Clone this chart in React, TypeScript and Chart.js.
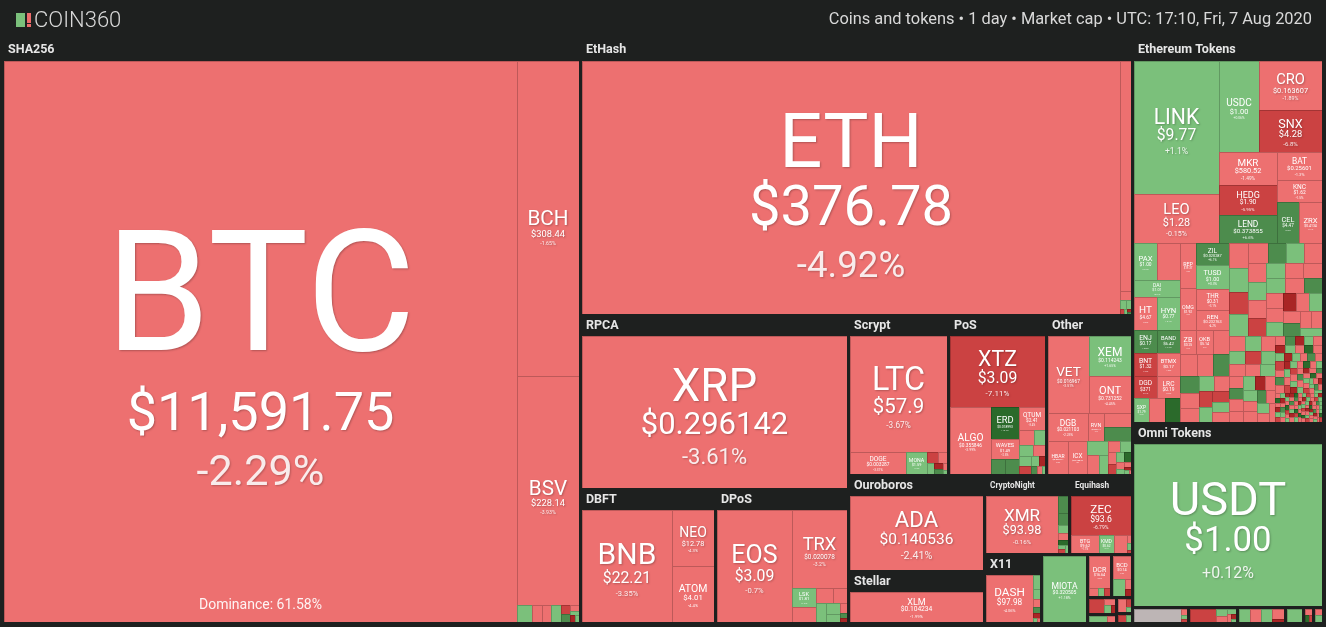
import React, { useEffect, useRef } from 'react';
import { Chart, registerables } from 'chart.js';

Chart.register(...registerables);

const CANVAS_W = 1326;
const CANVAS_H = 627;
const BG = '#1e201f';
const FONT = 'Roboto, "Open Sans", sans-serif';

const TITLE = 'COIN360';
const SUBTITLE = 'Coins and tokens \u2022 1 day \u2022 Market cap \u2022 UTC: 17:10, Fri, 7 Aug 2020';
const DOMINANCE = 'Dominance: 61.58%';

// ---------- data (cap = relative market-cap weight read from tile areas) ----------
const SHA256_SYM = ['BTC', 'BCH', 'BSV', 'ELA', 'NMC', 'PPC', 'EMC'];
const SHA256_PRICE = ['$11,591.75', '$308.44', '$228.14', '$1.41', '$0.64', '$0.31', '$0.05'];
const SHA256_CHG = [-2.29, -1.65, -3.93, 2.1, -2.4, -1.8, 1.5];
const SHA256_CAP = [2992, 204, 148, 2.8, 1.8, 1.6, 1.8];
const SHA256_TAIL_CAP = [0.9, 0.7, 0.5, 0.4, 0.3, 0.3];
const SHA256_TAIL_CHG = [-6.2, 7.1, -3.0, 2.2, -12.4, 1.0];

const ETHASH_SYM = ['ETH', 'ETC', 'EXP', 'CLO', 'UBQ'];
const ETHASH_PRICE = ['$376.78', '$7.35', '$0.16', '$0.006', '$0.12'];
const ETHASH_CHG = [-4.92, -4.41, -3.1, 2.4, 1.9];
const ETHASH_CAP = [1486, 28, 1.2, 0.5, 0.5];
const ETHASH_TAIL_CAP = [0.25, 0.2, 0.15, 0.1];
const ETHASH_TAIL_CHG = [-7.0, 3.0, -12.0, 6.0];

const RPCA_SYM = ['XRP'];
const RPCA_PRICE = ['$0.296142'];
const RPCA_CHG = [-3.61];
const RPCA_CAP = [463];

const DBFT_SYM = ['BNB', 'NEO', 'ATOM'];
const DBFT_PRICE = ['$22.21', '$12.78', '$4.01'];
const DBFT_CHG = [-3.35, -4.3, -4.4];
const DBFT_CAP = [123, 28.5, 28.5];

const DPOS_SYM = ['EOS', 'TRX', 'LSK', 'NANO'];
const DPOS_PRICE = ['$3.09', '$0.020078', '$1.81', '$1.04'];
const DPOS_CHG = [-0.7, -3.2, 1.2, -1.9];
const DPOS_CAP = [102, 52, 5.7, 4.5];
const DPOS_TAIL_CAP = [3.2, 2.6, 2.4, 1.8, 1.2, 0.8, 0.5, 0.3];
const DPOS_TAIL_CHG = [-2.0, -1.5, 2.1, 1.2, 0.8, -3.0, 8.2, -11.0];

const SCRYPT_SYM = ['LTC', 'DOGE', 'MONA'];
const SCRYPT_PRICE = ['$57.9', '$0.003287', '$1.59'];
const SCRYPT_CHG = [-3.67, -3.31, 1.3];
const SCRYPT_CAP = [134, 14.6, 5.5];
const SCRYPT_TAIL_CAP = [1.4, 1.1, 0.9, 0.6, 0.5, 0.3, 0.2];
const SCRYPT_TAIL_CHG = [-9.1, -3.0, 4.2, -12.3, 7.4, -2.2, 1.1];

const POS_SYM = ['XTZ', 'ALGO', 'ERD', 'WAVES', 'ONE', 'KAVA', 'QTUM'];
const POS_PRICE = ['$3.09', '$0.355846', '$0.018993', '$1.49', '$0.0072', '$1.21', '$2.41'];
const POS_CHG = [-7.11, -3.99, 12.4, -2.5, 7.8, 6.3, -3.4];
const POS_CAP = [80, 33, 11, 6.6, 2.6, 2.6, 7.4];
const POS_TAIL_CAP = [2.6, 2.0, 1.8, 1.6, 1.4, 1.2, 1.0, 0.8, 0.6, 0.5, 0.3];
const POS_TAIL_CHG = [-3.1, 2.2, 1.5, -2.0, 3.4, -6.1, 1.0, -12.2, 6.3, -4.0, 2.1];

const OTHER_SYM = ['VET', 'XEM', 'ONT', 'DGB', 'RVN', 'SC', 'WAN', 'HBAR', 'ICX', 'XVG', 'ARDR', 'NXS'];
const OTHER_PRICE = ['$0.016967', '$0.114243', '$0.731252', '$0.021103', '$0.023112', '$0.003701', '$0.27', '$0.052341', '$0.618842', '$0.0067', '$0.06', '$0.28'];
const OTHER_CHG = [-3.51, 1.65, -4.45, -2.25, -3.1, -3.2, 8.5, -3.6, -3.0, 2.4, -2.1, 1.3];
const OTHER_CAP = [37.6, 20, 18.5, 13.3, 5.4, 4.6, 4.7, 7.8, 7.4, 3.3, 2.7, 2.2];
const OTHER_TAIL_CAP = [1.6, 1.4, 1.2, 1.0, 0.9, 0.8, 0.7, 0.5, 0.4, 0.3, 0.2, 0.1];
const OTHER_TAIL_CHG = [-2.2, 3.5, -1.4, -6.8, 1.9, 12.5, -3.3, 2.6, -1.1, -13.0, 4.1, -2.0];

const OUROBOROS_SYM = ['ADA'];
const OUROBOROS_PRICE = ['$0.140536'];
const OUROBOROS_CHG = [-2.41];
const OUROBOROS_CAP = [130];

const STELLAR_SYM = ['XLM'];
const STELLAR_PRICE = ['$0.104234'];
const STELLAR_CHG = [-1.99];
const STELLAR_CAP = [70];

const CRYPTONIGHT_SYM = ['XMR'];
const CRYPTONIGHT_PRICE = ['$93.98'];
const CRYPTONIGHT_CHG = [-0.16];
const CRYPTONIGHT_CAP = [59];
const CRYPTONIGHT_TAIL_CAP = [2.4, 1.6, 1.2, 0.9, 0.7, 0.5, 0.4, 0.3];
const CRYPTONIGHT_TAIL_CHG = [9.2, 6.1, 2.0, -3.2, 12.3, 1.1, -6.4, 4.0];

const EQUIHASH_SYM = ['ZEC', 'BTG', 'KMD', 'ZEN'];
const EQUIHASH_PRICE = ['$93.6', '$9.62', '$0.62', '$7.98'];
const EQUIHASH_CHG = [-6.79, -1.7, 2.1, -2.4];
const EQUIHASH_CAP = [34, 7.5, 3.8, 3.5];
const EQUIHASH_TAIL_CAP = [0.5, 0.4, 0.2];
const EQUIHASH_TAIL_CHG = [-3.0, 1.5, -8.0];

const X11_SYM = ['DASH'];
const X11_PRICE = ['$97.98'];
const X11_CHG = [-4.06];
const X11_CAP = [34];
const X11_TAIL_CAP = [1.6, 1.2, 0.9, 0.7, 0.5, 0.3, 0.2];
const X11_TAIL_CHG = [2.0, 1.2, -4.0, 6.1, -12.0, 3.0, -2.0];

const TANGLE_SYM = ['MIOTA'];
const TANGLE_PRICE = ['$0.320505'];
const TANGLE_CHG = [1.18];
const TANGLE_CAP = [31.8];

const BLAKE_SYM = ['DCR'];
const BLAKE_PRICE = ['$16.64'];
const BLAKE_CHG = [-2.9];
const BLAKE_CAP = [8.0];
const BLAKE_TAIL_CAP = [0.8, 0.6, 0.5];
const BLAKE_TAIL_CHG = [-3.2, 2.4, -6.0];

const X13_SYM = ['BCD', ''];
const X13_PRICE = ['$0.14', ''];
const X13_CHG = [-2.3, 1.8];
const X13_CAP = [5.2, 2.6];
const X13_TAIL_CAP = [0.8, 0.5];
const X13_TAIL_CHG = [-2.0, -11.0];

const MINOR1_CAP = [2.8, 0.9, 0.6, 0.4];
const MINOR1_CHG = [-8.3, -2.1, 4.4, -12.0];
const MINOR2_CAP = [1.8, 0.8];
const MINOR2_CHG = [1.5, -1.2];
const MINOR3_CAP = [1.6, 0.6, 0.4];
const MINOR3_CHG = [-2.5, -6.2, 3.3];
const MINOR4_CAP = [1.0, 0.7];
const MINOR4_CHG = [-9.0, 2.2];

const ET_SYM = ['LINK', 'LEO', 'USDC', 'CRO', 'SNX', 'MKR', 'HEDG', 'LEND', 'BAT', 'KNC', 'CEL', 'ZRX'];
const ET_PRICE = ['$9.77', '$1.28', '$1.00', '$0.163607', '$4.28', '$580.52', '$1.90', '$0.373855', '$0.25601', '$1.62', '$4.47', '$0.4134'];
const ET_CHG = [1.1, -0.15, 0.06, -1.89, -6.8, -1.49, -5.95, 6.6, -1.3, -1.5, 6.2, -2.1];
const ET_CAP = [122, 44.5, 38.3, 33.7, 28.2, 20.5, 18.7, 16.8, 13.8, 10.8, 9.6, 10.0];

const ET_A_SYM = ['PAX', 'THETA', 'DAI', 'HT', 'HYN', 'ENJ', 'BAND', 'BNT', 'BTMX', 'DGD', 'LRC', 'SXP', '', ''];
const ET_A_PRICE = ['$1.00', '$0.71', '$1.01', '$4.67', '$0.77', '$0.17', '$6.42', '$1.32', '$0.17', '$371', '$0.19', '$1.79', '', ''];
const ET_A_CHG = [0.12, -2.3, 0.4, -2.6, 3.1, 6.8, 7.4, -7.2, -1.8, -6.1, -3.3, 2.5, -2.0, 11.5];
const ET_A_CAP = [8.9, 9.3, 8.4, 7.9, 8.3, 5.8, 6.0, 5.5, 5.8, 5.3, 5.5, 3.8, 3.8, 3.8];

const ET_B_SYM = ['REP', 'OMG', 'ZIL', 'TUSD', 'THR', 'REN'];
const ET_B_PRICE = ['$19.37', '$1.92', '$0.020287', '$1.00', '$0.31', '$0.232763'];
const ET_B_CHG = [-2.2, -2.6, 6.1, 0.3, -3.1, -4.2];
const ET_B_CAP = [8.0, 7.2, 7.7, 8.4, 7.3, 7.0];

const ET_B2_SYM = ['ZB', 'OKB', '', '', '', '', '', '', '', '', '', '', '', '', '', ''];
const ET_B2_PRICE = ['$0.25', '$5.14', '', '', '', '', '', '', '', '', '', '', '', '', '', ''];
const ET_B2_CHG = [-2.4, -3.1, -1.8, -2.2, -1.6, 8.2, 7.1, -2.8, -3.4, 1.9, -1.2, -5.6, 1.4, -6.6, 2.2, -1.9];
const ET_B2_CAP = [4.2, 4.2, 4.2, 4.0, 3.8, 3.6, 3.4, 3.0, 2.8, 2.6, 2.5, 2.3, 2.1, 1.9, 1.8, 1.6];

const ET_C1_CAP = [5.2, 4.9, 4.6, 4.4, 4.2, 4.0, 3.9, 3.8, 3.6, 3.5, 3.4, 3.3, 3.2, 3.1, 3.1, 3.0, 3.0, 2.9, 2.8, 2.7, 2.6, 2.5, 2.5, 2.4, 2.3, 2.2, 2.1, 2.0, 1.9];
const ET_C1_CHG = [-2.1, 2.3, -6.2, 1.4, -1.8, 6.5, 2.2, -3.4, -1.1, 1.9, -2.6, -7.5, 3.1, -1.5, -2.0, 1.2, -2.9, 5.6, -4.2, -1.3, 2.7, -11.2, -2.4, 1.6, -3.1, 7.2, -1.7, -2.5, 1.0];
const ET_C2_CAP = [2.6, 2.5, 2.4, 2.3, 2.2, 2.1, 2.0, 2.0, 1.9, 1.9, 1.8, 1.8, 1.7, 1.7, 1.6, 1.6, 1.5, 1.5, 1.4, 1.4, 1.3, 1.3, 1.2, 1.2];
const ET_C2_CHG = [-1.4, 2.1, -2.7, 1.1, -5.8, 3.2, -1.9, -2.2, 1.7, -3.5, 8.1, -1.2, -2.8, 2.5, -13.1, -1.6, 1.3, -4.1, -2.3, 6.4, -1.0, 1.8, -3.9, -2.0];
const ET_C3_CAP = [
  0.95, 0.95, 0.9, 0.9, 0.9, 0.85, 0.85, 0.8, 0.8, 0.8,
  0.75, 0.75, 0.7, 0.7, 0.7, 0.65, 0.65, 0.6, 0.6, 0.6,
  0.6, 0.55, 0.55, 0.55, 0.5, 0.5, 0.5, 0.5, 0.45, 0.45,
  0.45, 0.45, 0.4, 0.4, 0.4, 0.4, 0.4, 0.35, 0.35, 0.35,
  0.35, 0.35, 0.3, 0.3, 0.3, 0.3, 0.3, 0.3, 0.25, 0.25,
  0.25, 0.25, 0.25, 0.25,
];
const ET_C3_CHG = [
  -1.9, 5.6, -14.1, 1.7, -2.8, -10.5, 2.9, -1.2, 12.6, -4.4,
  1.3, -8.8, -2.6, 6.4, -1.6, -11.3, 2.1, -3.7, 9.2, -1.1,
  -13.4, 1.8, -2.3, -6.9, 4.7, -1.5, 10.9, -2.9, 1.4, -9.6,
  -1.3, 2.6, -15.0, -3.1, 7.3, -1.8, 1.2, -12.8, -2.4, 5.1,
  -1.7, 13.5, -4.6, 1.9, -2.2, -7.1, 3.6, -1.0, -10.2, 2.4,
  -3.3, 6.8, -1.4, 1.5,
];
const ET_C4_CAP = [
  0.25, 0.25, 0.24, 0.24, 0.24, 0.23, 0.23, 0.23, 0.22, 0.22,
  0.22, 0.22, 0.21, 0.21, 0.21, 0.21, 0.2, 0.2, 0.2, 0.2,
  0.2, 0.2, 0.19, 0.19, 0.19, 0.19, 0.19, 0.19, 0.18, 0.18,
  0.18, 0.18, 0.18, 0.18, 0.18, 0.17, 0.17, 0.17, 0.17, 0.17,
  0.17, 0.17, 0.16, 0.16, 0.16, 0.16, 0.16, 0.16, 0.16, 0.16,
  0.15, 0.15, 0.15, 0.15, 0.15, 0.15, 0.15, 0.15, 0.15, 0.14,
  0.14, 0.14, 0.14, 0.14, 0.14, 0.14, 0.14, 0.14, 0.14, 0.13,
  0.13, 0.13, 0.13, 0.13, 0.13, 0.13, 0.13, 0.13, 0.12, 0.12,
  0.12, 0.12, 0.12, 0.12,
];
const ET_C4_CHG = [
  -3.1, 12.2, -1.4, -11.5, 2.3, -6.2, 1.1, -13.0, -2.2, 8.4,
  1.6, -1.8, -10.1, 3.7, -2.6, 14.0, -7.3, -1.2, 2.8, -12.6,
  -1.5, 5.9, -2.9, 1.3, -15.2, -1.1, 11.1, -4.2, 2.0, -8.1,
  -1.9, 1.4, -11.9, 6.6, -2.4, -1.3, 13.3, -5.5, 1.8, -2.1,
  -10.8, 2.5, -1.6, -7.9, 1.2, -13.7, 3.9, -2.7, 10.4, -1.4,
  -2.3, 1.7, -9.3, -1.2, 12.9, -3.6, 2.2, -14.4, -1.7, 6.1,
  1.5, -2.0, -11.1, -1.3, 2.7, -6.7, 15.1, -1.9, -2.5, 1.0,
  -12.1, 4.4, -1.6, -3.4, 9.8, -1.1, 2.1, -10.6, -2.8, 1.9,
  -4.9, 13.1, -1.5, -8.6,
];

const OMNI_SYM = ['USDT'];
const OMNI_PRICE = ['$1.00'];
const OMNI_CHG = [0.12];
const OMNI_CAP = [350];

const STRIP1_CAP = [8.0, 0.5, 0.3, 0.2];
const STRIP1_CHG = [0, -2.1, 3.0, -6.0];
const STRIP2_CAP = [4.5, 1.0, 0.8, 0.6, 0.5, 0.3, 0.2];
const STRIP2_CHG = [-6.2, 2.1, -1.5, 3.3, -2.2, -11.0, 1.2];
const STRIP3_CAP = [1.9, 1.9, 1.9, 1.6, 0.4];
const STRIP3_CHG = [1.2, -2.2, 1.6, -1.8, -12.5];
const STRIP4_CAP = [3.0];
const STRIP4_CHG = [1.4];
const STRIP5_CAP = [0.8, 0.5, 0.3];
const STRIP5_CHG = [-3.0, 11.2, -9.5];
const STRIP6_CAP = [0.8, 0.8];
const STRIP6_CHG = [-2.0, 1.5];

// ---------- tree model ----------
type Leaf = { sym: string; price: string; chg: number; cap: number };
type Node =
  | { t: 'leaf'; leaf: Leaf }
  | { t: 'split'; dir: 'h' | 'v'; kids: Node[] }
  | { t: 'sq'; leaves: Leaf[]; labels: boolean }
  | { t: 'group'; name: string; header: boolean; body: Node };

const leaves = (sym: string[], price: string[], chg: number[], cap: number[]): Leaf[] =>
  cap.map((c, i) => ({ sym: sym[i] ?? '', price: price[i] ?? '', chg: chg[i], cap: c }));
const tail = (cap: number[], chg: number[]): Leaf[] =>
  cap.map((c, i) => ({ sym: '', price: '', chg: chg[i], cap: c }));
const L = (l: Leaf): Node => ({ t: 'leaf', leaf: l });
const H = (...kids: Node[]): Node => ({ t: 'split', dir: 'h', kids });
const V = (...kids: Node[]): Node => ({ t: 'split', dir: 'v', kids });
const SQ = (ls: Leaf[], labels = false): Node => ({ t: 'sq', leaves: ls, labels });
const G = (name: string, header: boolean, body: Node): Node => ({ t: 'group', name, header, body });

function buildTree(): Node {
  const sha = leaves(SHA256_SYM, SHA256_PRICE, SHA256_CHG, SHA256_CAP);
  const shaG = G('SHA256', true, H(L(sha[0]), V(L(sha[1]), L(sha[2]),
    H(SQ(sha.slice(3)), SQ(tail(SHA256_TAIL_CAP, SHA256_TAIL_CHG))))));

  const eh = leaves(ETHASH_SYM, ETHASH_PRICE, ETHASH_CHG, ETHASH_CAP);
  const ethG = G('EtHash', true, H(L(eh[0]), V(L(eh[1]), L(eh[2]), H(L(eh[3]), L(eh[4])),
    SQ(tail(ETHASH_TAIL_CAP, ETHASH_TAIL_CHG)))));

  const rp = leaves(RPCA_SYM, RPCA_PRICE, RPCA_CHG, RPCA_CAP);
  const rpcaG = G('RPCA', true, L(rp[0]));

  const db = leaves(DBFT_SYM, DBFT_PRICE, DBFT_CHG, DBFT_CAP);
  const dbftG = G('DBFT', true, H(L(db[0]), V(L(db[1]), L(db[2]))));

  const dp = leaves(DPOS_SYM, DPOS_PRICE, DPOS_CHG, DPOS_CAP);
  const dposG = G('DPoS', true, H(L(dp[0]), V(L(dp[1]),
    H(V(L(dp[2]), L(dp[3])), SQ(tail(DPOS_TAIL_CAP, DPOS_TAIL_CHG))))));

  const sc = leaves(SCRYPT_SYM, SCRYPT_PRICE, SCRYPT_CHG, SCRYPT_CAP);
  const scryptG = G('Scrypt', true, V(L(sc[0]), H(L(sc[1]), L(sc[2]), SQ(tail(SCRYPT_TAIL_CAP, SCRYPT_TAIL_CHG)))));

  const ps = leaves(POS_SYM, POS_PRICE, POS_CHG, POS_CAP);
  const posG = G('PoS', true, V(L(ps[0]), H(L(ps[1]),
    V(L(ps[2]), L(ps[3]), H(L(ps[4]), L(ps[5]))),
    V(L(ps[6]), SQ(tail(POS_TAIL_CAP, POS_TAIL_CHG))))));

  const ot = leaves(OTHER_SYM, OTHER_PRICE, OTHER_CHG, OTHER_CAP);
  const otherG = G('Other', true, V(
    H(L(ot[0]), V(L(ot[1]), L(ot[2]))),
    H(L(ot[3]), L(ot[4]), V(L(ot[5]), L(ot[6]))),
    H(L(ot[7]), L(ot[8]), V(L(ot[9]), H(L(ot[10]), L(ot[11]))), SQ(tail(OTHER_TAIL_CAP, OTHER_TAIL_CHG))),
  ));

  const ouroG = G('Ouroboros', true, L(leaves(OUROBOROS_SYM, OUROBOROS_PRICE, OUROBOROS_CHG, OUROBOROS_CAP)[0]));
  const stellarG = G('Stellar', true, L(leaves(STELLAR_SYM, STELLAR_PRICE, STELLAR_CHG, STELLAR_CAP)[0]));

  const cn = leaves(CRYPTONIGHT_SYM, CRYPTONIGHT_PRICE, CRYPTONIGHT_CHG, CRYPTONIGHT_CAP);
  const cnG = G('CryptoNight', true, H(L(cn[0]), SQ(tail(CRYPTONIGHT_TAIL_CAP, CRYPTONIGHT_TAIL_CHG))));

  const eq = leaves(EQUIHASH_SYM, EQUIHASH_PRICE, EQUIHASH_CHG, EQUIHASH_CAP);
  const eqG = G('Equihash', true, V(L(eq[0]), H(L(eq[1]), L(eq[2]), L(eq[3]), SQ(tail(EQUIHASH_TAIL_CAP, EQUIHASH_TAIL_CHG)))));

  const x11 = leaves(X11_SYM, X11_PRICE, X11_CHG, X11_CAP);
  const x11G = G('X11', true, H(L(x11[0]), SQ(tail(X11_TAIL_CAP, X11_TAIL_CHG))));

  const tangleG = G('Tangle', false, L(leaves(TANGLE_SYM, TANGLE_PRICE, TANGLE_CHG, TANGLE_CAP)[0]));

  const bl = leaves(BLAKE_SYM, BLAKE_PRICE, BLAKE_CHG, BLAKE_CAP);
  const blakeG = G('Blake256', false, V(L(bl[0]), SQ(tail(BLAKE_TAIL_CAP, BLAKE_TAIL_CHG))));
  const x13 = leaves(X13_SYM, X13_PRICE, X13_CHG, X13_CAP);
  const x13G = G('X13', false, V(L(x13[0]), H(L(x13[1]), SQ(tail(X13_TAIL_CAP, X13_TAIL_CHG)))));
  const minor = V(
    H(blakeG, x13G),
    H(V(G('m1', false, SQ(tail(MINOR1_CAP, MINOR1_CHG))), G('m2', false, SQ(tail(MINOR2_CAP, MINOR2_CHG)))),
      V(G('m3', false, SQ(tail(MINOR3_CAP, MINOR3_CHG))), G('m4', false, SQ(tail(MINOR4_CAP, MINOR4_CHG))))),
  );

  const middle = V(
    ethG,
    H(
      V(rpcaG, H(dbftG, dposG)),
      V(
        H(scryptG, posG, otherG),
        H(V(ouroG, stellarG), V(H(cnG, eqG), H(x11G, tangleG, minor))),
      ),
    ),
  );

  const et = leaves(ET_SYM, ET_PRICE, ET_CHG, ET_CAP);
  const ea = leaves(ET_A_SYM, ET_A_PRICE, ET_A_CHG, ET_A_CAP);
  const eb = leaves(ET_B_SYM, ET_B_PRICE, ET_B_CHG, ET_B_CAP);
  const eb2 = leaves(ET_B2_SYM, ET_B2_PRICE, ET_B2_CHG, ET_B2_CAP);
  const etTop = H(
    V(L(et[0]), L(et[1])),
    V(H(L(et[2]), V(L(et[3]), L(et[4]))),
      H(V(L(et[5]), L(et[6]), L(et[7])), V(L(et[8]), L(et[9]), H(L(et[10]), L(et[11]))))),
  );
  const colA = V(H(L(ea[0]), L(ea[1])), L(ea[2]), H(L(ea[3]), L(ea[4])), H(L(ea[5]), L(ea[6])),
    H(L(ea[7]), L(ea[8])), H(L(ea[9]), L(ea[10])), H(L(ea[11]), L(ea[12]), L(ea[13])));
  const colB = V(H(V(L(eb[0]), L(eb[1])), V(L(eb[2]), L(eb[3]), L(eb[4]), L(eb[5]))), SQ(eb2, true));
  const colC = V(
    SQ(tail(ET_C1_CAP, ET_C1_CHG)),
    H(SQ(tail(ET_C2_CAP, ET_C2_CHG)), V(SQ(tail(ET_C3_CAP, ET_C3_CHG)), SQ(tail(ET_C4_CAP, ET_C4_CHG)))),
  );
  const etG = G('Ethereum Tokens', true, V(etTop, H(colA, colB, colC)));

  const omniG = G('Omni Tokens', true, L(leaves(OMNI_SYM, OMNI_PRICE, OMNI_CHG, OMNI_CAP)[0]));
  const strip = H(
    G('s1', false, H(L(tail(STRIP1_CAP, STRIP1_CHG)[0]), SQ(tail(STRIP1_CAP.slice(1), STRIP1_CHG.slice(1))))),
    G('s2', false, SQ(tail(STRIP2_CAP, STRIP2_CHG))),
    G('s3', false, SQ(tail(STRIP3_CAP, STRIP3_CHG))),
    G('s4', false, SQ(tail(STRIP4_CAP, STRIP4_CHG))),
    G('s5', false, SQ(tail(STRIP5_CAP, STRIP5_CHG))),
    G('s6', false, SQ(tail(STRIP6_CAP, STRIP6_CHG))),
  );
  const right = V(etG, omniG, strip);

  return H(shaG, middle, right);
}

// ---------- layout ----------
type Rect = { x: number; y: number; w: number; h: number };
type Tile = Rect & { leaf: Leaf; label: boolean };
type GLabel = Rect & { name: string };

const GAP = 1.5;
const HEAD = 19;

function weightOf(n: Node): number {
  if (n.t === 'leaf') return n.leaf.cap;
  if (n.t === 'sq') return n.leaves.reduce((a, l) => a + l.cap, 0);
  if (n.t === 'group') return weightOf(n.body);
  return n.kids.reduce((a, k) => a + weightOf(k), 0);
}

function worst(row: number[], side: number) {
  const s = row.reduce((a, b) => a + b, 0);
  const mx = Math.max(...row);
  const mn = Math.min(...row);
  return Math.max((side * side * mx) / (s * s), (s * s) / (side * side * mn));
}

function squarify(vals: number[], x: number, y: number, w: number, h: number): Rect[] {
  const out: Rect[] = [];
  const total = vals.reduce((a, b) => a + b, 0);
  if (total <= 0 || w <= 0 || h <= 0) return vals.map(() => ({ x, y, w: 0, h: 0 }));
  const scale = (w * h) / total;
  const areas = vals.map((v) => v * scale);
  let i = 0;
  while (i < areas.length) {
    const side = Math.min(w, h);
    const row = [areas[i]];
    let j = i + 1;
    let cur = worst(row, side);
    while (j < areas.length) {
      row.push(areas[j]);
      const nw = worst(row, side);
      if (nw > cur) { row.pop(); break; }
      cur = nw;
      j++;
    }
    const s = row.reduce((a, b) => a + b, 0);
    if (w >= h) {
      const cw = s / h;
      let cy = y;
      for (const a of row) { const rh = a / cw; out.push({ x, y: cy, w: cw, h: rh }); cy += rh; }
      x += cw; w -= cw;
    } else {
      const rh = s / w;
      let cx = x;
      for (const a of row) { const cw = a / rh; out.push({ x: cx, y, w: cw, h: rh }); cx += cw; }
      y += rh; h -= rh;
    }
    i = j;
  }
  return out;
}

function place(n: Node, x: number, y: number, w: number, h: number, tiles: Tile[], labels: GLabel[]) {
  if (n.t === 'leaf') { tiles.push({ x, y, w, h, leaf: n.leaf, label: true }); return; }
  if (n.t === 'sq') {
    const rs = squarify(n.leaves.map((l) => l.cap), x, y, w, h);
    rs.forEach((r, i) => tiles.push({ ...r, leaf: n.leaves[i], label: n.labels }));
    return;
  }
  if (n.t === 'group') {
    const gx = x + GAP, gy = y + GAP, gw = w - 2 * GAP, gh = h - 2 * GAP;
    if (n.header) labels.push({ x: gx, y: gy, w: gw, h: HEAD, name: n.name });
    const hh = n.header ? HEAD : 0;
    place(n.body, gx, gy + hh, gw, gh - hh, tiles, labels);
    return;
  }
  const tot = weightOf(n);
  let off = 0;
  for (const k of n.kids) {
    const f = tot > 0 ? weightOf(k) / tot : 0;
    if (n.dir === 'h') { place(k, x + off, y, w * f, h, tiles, labels); off += w * f; }
    else { place(k, x, y + off, w, h * f, tiles, labels); off += h * f; }
  }
}

function colorFor(c: number) {
  if (c === 0) return '#bdb5b5';
  const a = Math.abs(c);
  if (c > 0) return a >= 10 ? '#2b6a2b' : a >= 5 ? '#4d8c4d' : '#7bc07b';
  return a >= 10 ? '#a92525' : a >= 5 ? '#cb4242' : '#ed7070';
}

function drawLabel(ctx: CanvasRenderingContext2D, X: number, Y: number, W: number, Hh: number, leaf: Leaf) {
  const f1 = Math.min(Hh * 0.3, W / leaf.sym.length);
  if (f1 < 5) return;
  const pct = (leaf.chg > 0 ? '+' : '') + leaf.chg + '%';
  const f2 = Math.min(f1 * 0.74, (W * 0.6) / (Math.max(leaf.price.length, 1) * 0.57));
  const f3 = Math.min(f2 * 0.8, (W * 0.28) / (pct.length * 0.55), Hh * 0.145);
  const c1 = f1 * 0.72, c2 = f2 * 0.72, c3 = f3 * 0.72;
  const g1 = f1 * 0.24, g2 = f2 * 0.45;
  const total = c1 + g1 + c2 + g2 + c3;
  const cx = X + W / 2;
  const top = Y + Hh / 2 - total / 2 + Hh * 0.028;
  ctx.save();
  ctx.textAlign = 'center';
  ctx.textBaseline = 'alphabetic';
  if (f1 > 12) {
    ctx.shadowColor = 'rgba(0,0,0,0.25)';
    ctx.shadowOffsetX = 1;
    ctx.shadowOffsetY = 1;
    ctx.shadowBlur = 2;
  }
  ctx.fillStyle = '#ffffff';
  ctx.font = `400 ${f1}px ${FONT}`;
  ctx.fillText(leaf.sym, cx, top + c1);
  ctx.font = `400 ${f2}px ${FONT}`;
  ctx.fillText(leaf.price, cx, top + c1 + g1 + c2);
  ctx.fillStyle = 'rgba(255,255,255,0.88)';
  ctx.font = `400 ${f3}px ${FONT}`;
  ctx.fillText(pct, cx, top + total);
  ctx.restore();
}

const treemapPlugin = {
  id: 'coinTreemap',
  beforeDraw(chart: any) {
    const ctx: CanvasRenderingContext2D = chart.ctx;
    ctx.save();
    ctx.fillStyle = BG;
    ctx.fillRect(0, 0, chart.width, chart.height);
    ctx.restore();
  },
  afterDatasetsDraw(chart: any) {
    const ctx: CanvasRenderingContext2D = chart.ctx;
    const xs = chart.scales.x;
    const ys = chart.scales.y;
    const px = (v: number) => Math.round(xs.getPixelForValue(v));
    const py = (v: number) => Math.round(ys.getPixelForValue(v));

    // header
    ctx.save();
    ctx.fillStyle = '#7bc07b';
    ctx.fillRect(16, 13, 9, 14);
    ctx.fillStyle = '#ed6b6b';
    ctx.fillRect(27, 13, 4, 10);
    ctx.fillRect(27, 24, 4, 3);
    ctx.fillStyle = '#d9d9d9';
    ctx.textBaseline = 'alphabetic';
    ctx.textAlign = 'left';
    ctx.font = `300 22px ${FONT}`;
    ctx.fillText(TITLE, 34, 27);
    ctx.textAlign = 'right';
    ctx.font = `400 16.4px ${FONT}`;
    ctx.fillText(SUBTITLE, 1312, 24);
    ctx.restore();

    const tiles: Tile[] = [];
    const labels: GLabel[] = [];
    place(buildTree(), 2.5, 40, 1321, 583.5, tiles, labels);

    for (const g of labels) {
      const X = px(g.x), Y = py(g.y), W = px(g.x + g.w) - X;
      const fs = Math.min(12.5, W / (g.name.length * 0.9));
      ctx.save();
      ctx.fillStyle = '#e6e6e6';
      ctx.font = `700 ${fs}px ${FONT}`;
      ctx.textAlign = 'left';
      ctx.textBaseline = 'middle';
      ctx.fillText(g.name, X + 4, Y + 9);
      ctx.restore();
    }

    for (const t of tiles) {
      const X0 = px(t.x), X1 = px(t.x + t.w), Y0 = py(t.y), Y1 = py(t.y + t.h);
      const W = X1 - X0, Hh = Y1 - Y0;
      if (W <= 0 || Hh <= 0) continue;
      ctx.fillStyle = colorFor(t.leaf.chg);
      ctx.fillRect(X0, Y0, W, Hh);
      ctx.fillStyle = 'rgba(0,0,0,0.2)';
      ctx.fillRect(X0, Y0, W, 1);
      ctx.fillRect(X0, Y0 + 1, 1, Hh - 1);
      if (t.label && t.leaf.sym) drawLabel(ctx, X0, Y0, W, Hh, t.leaf);
      if (t.leaf.sym === 'BTC') {
        ctx.save();
        ctx.fillStyle = 'rgba(255,255,255,0.92)';
        ctx.font = `400 14px ${FONT}`;
        ctx.textAlign = 'center';
        ctx.textBaseline = 'alphabetic';
        ctx.fillText(DOMINANCE, X0 + W / 2, Y1 - 13);
        ctx.restore();
      }
    }
  },
};

export default function App() {
  const ref = useRef<HTMLCanvasElement>(null);
  useEffect(() => {
    if (!ref.current) return;
    const chart = new Chart(ref.current, {
      type: 'scatter',
      data: { datasets: [{ data: [], pointRadius: 0 }] },
      options: {
        animation: false,
        responsive: true,
        maintainAspectRatio: false,
        layout: { padding: 0 },
        events: [],
        plugins: { legend: { display: false }, tooltip: { enabled: false } },
        scales: {
          x: { type: 'linear', min: 0, max: CANVAS_W, display: false },
          y: { type: 'linear', min: 0, max: CANVAS_H, reverse: true, display: false },
        },
      },
      plugins: [treemapPlugin],
    });
    return () => chart.destroy();
  }, []);
  return (
    <div style={{ position: 'fixed', left: 0, top: 0, width: CANVAS_W, height: CANVAS_H, background: BG }}>
      <canvas ref={ref} />
    </div>
  );
}
